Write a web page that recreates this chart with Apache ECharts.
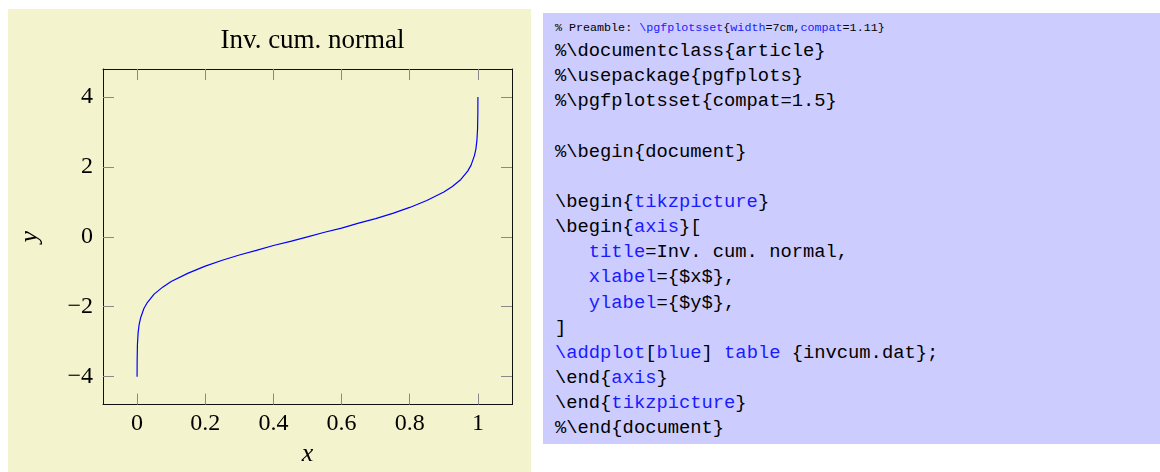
<!DOCTYPE html>
<html>
<head>
<meta charset="utf-8">
<script src="https://cdn.jsdelivr.net/npm/echarts@6/dist/echarts.min.js"></script>
<style>
  html, body { margin: 0; padding: 0; background: #ffffff; width: 1160px; height: 472px; overflow: hidden; }
  #beige { position: absolute; left: 8px; top: 9px; width: 523px; height: 463px; background: #f3f4cd; }
  #chart { position: absolute; left: 0; top: 0; width: 540px; height: 472px; }
  #code { position: absolute; left: 543px; top: 13px; width: 617px; height: 431px; background: #ccccff; }
  .small { position: absolute; left: 555px; top: 22px; font-family: "Liberation Mono", monospace; font-size: 11.7px; line-height: 12px; color: #000; white-space: pre; }
  pre.main { position: absolute; left: 555px; top: 39px; margin: 0; font-family: "Liberation Mono", monospace; font-size: 18.8px; line-height: 25.15px; color: #000; }
  .k { color: #1a1aff; }
</style>
</head>
<body>
<div id="beige"></div>
<div id="chart"></div>
<div id="code"></div>
<div class="small">% Preamble: <span class="k">\pgfplotsset</span>{<span class="k">width</span>=7cm,<span class="k">compat</span>=1.11}</div>
<pre class="main">%\documentclass{article}
%\usepackage{pgfplots}
%\pgfplotsset{compat=1.5}

%\begin{document}

\begin{<span class="k">tikzpicture</span>}
\begin{<span class="k">axis</span>}[
   <span class="k">title</span>=Inv. cum. normal,
   <span class="k">xlabel</span>={$x$},
   <span class="k">ylabel</span>={$y$},
]
<span class="k">\addplot</span>[<span class="k">blue</span>] <span class="k">table</span> {invcum.dat};
\end{<span class="k">axis</span>}
\end{<span class="k">tikzpicture</span>}
%\end{document}</pre>
<script>
// Data (invcum.dat)
var xs = [0, 0.0002, 0.001, 0.003, 0.006, 0.01, 0.02, 0.03, 0.05, 0.075, 0.1, 0.15, 0.2, 0.25, 0.3, 0.35, 0.4, 0.45, 0.5, 0.55, 0.6, 0.65, 0.7, 0.75, 0.8, 0.85, 0.9, 0.925, 0.95, 0.97, 0.98, 0.99, 0.994, 0.997, 0.999, 0.9998, 1];
var ys = [-4, -3.54, -3.09, -2.75, -2.51, -2.33, -2.05, -1.88, -1.64, -1.44, -1.28, -1.04, -0.84, -0.67, -0.52, -0.39, -0.25, -0.13, 0, 0.13, 0.25, 0.39, 0.52, 0.67, 0.84, 1.04, 1.28, 1.44, 1.64, 1.88, 2.05, 2.33, 2.51, 2.75, 3.09, 3.54, 4];
var xTicks = [0, 0.2, 0.4, 0.6, 0.8, 1];
var yTicks = [-4, -2, 0, 2, 4];
var titleText = 'Inv. cum. normal';
var xName = 'x';
var yName = 'y';

var pts = xs.map(function (x, i) { return [x, ys[i]]; });
var serif = '"Liberation Serif", "Times New Roman", serif';
function fmt(v) { return String(v).replace('-', '\u2212'); }

var tickStyle = { show: true, inside: true, length: 11, lineStyle: { color: '#8a8a8a', width: 1 } };
var lineStyle = { show: true, onZero: false, lineStyle: { color: '#111', width: 1 } };

function xAx(pos, labels) {
  return {
    type: 'value', position: pos, min: -0.1, max: 1.1, gridIndex: 0,
    axisLine: lineStyle,
    axisTick: Object.assign({ customValues: xTicks }, tickStyle),
    axisLabel: labels ? { show: true, customValues: xTicks, formatter: fmt, margin: 7.5, color: '#000', fontFamily: serif, fontSize: 24, lineHeight: 24 } : { show: false },
    splitLine: { show: false },
    name: labels ? xName : '', nameLocation: 'middle', nameGap: 35,
    nameTextStyle: { fontFamily: serif, fontStyle: 'italic', fontSize: 26, color: '#000' }
  };
}
function yAx(pos, labels) {
  return {
    type: 'value', position: pos, min: -4.8, max: 4.8, gridIndex: 0,
    axisLine: lineStyle,
    axisTick: Object.assign({ customValues: yTicks }, tickStyle),
    axisLabel: labels ? { show: true, customValues: yTicks, formatter: fmt, margin: 10, color: '#000', fontFamily: serif, fontSize: 24, lineHeight: 24 } : { show: false },
    splitLine: { show: false },
    name: labels ? yName : '', nameLocation: 'middle', nameGap: 60, nameRotate: 90,
    nameTextStyle: { fontFamily: serif, fontStyle: 'italic', fontSize: 26, color: '#000' }
  };
}

var chart = echarts.init(document.getElementById('chart'), null, { renderer: 'canvas' });
chart.setOption({
  backgroundColor: 'transparent',
  animation: false,
  title: {
    text: titleText, left: 307.5, top: 22, textAlign: 'center',
    textStyle: { fontFamily: serif, fontWeight: 'normal', fontSize: 27, lineHeight: 27, color: '#000' }
  },
  grid: { left: 103, top: 69, width: 409, height: 337, containLabel: false },
  xAxis: [xAx('bottom', true), xAx('top', false)],
  yAxis: [yAx('left', true), yAx('right', false)],
  series: [{
    type: 'line', xAxisIndex: 0, yAxisIndex: 0, data: pts,
    showSymbol: false, symbol: 'none', smooth: false,
    lineStyle: { color: '#0000ff', width: 1.2 }
  }]
});
</script>
</body>
</html>
